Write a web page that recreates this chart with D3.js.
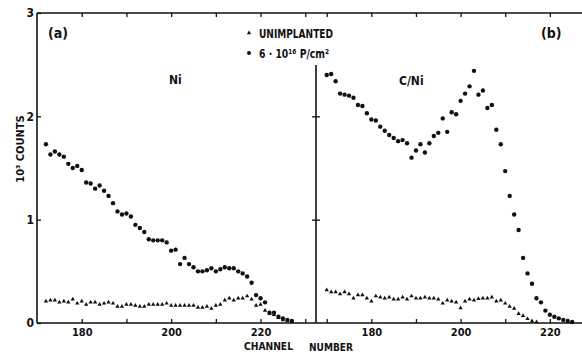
<!DOCTYPE html>
<html>
<head>
<meta charset="utf-8">
<script src="https://cdn.jsdelivr.net/npm/d3@7"></script>
<style>
  body { margin: 0; background: #fff; }
  svg { display: block; }
  text { font-family: "Liberation Sans Narrow", "DejaVu Sans Condensed", "Liberation Sans", sans-serif; font-weight: bold; fill: #111; }
</style>
</head>
<body>
<div id="chart"></div>
<script>
// Panel (a): Ni, counts in units of 10^3
const niChannels = d3.range(172, 228);
const niImplanted = [1.73, 1.63, 1.66, 1.63, 1.61, 1.54, 1.50, 1.52, 1.48,
  1.36, 1.35, 1.30, 1.33, 1.28, 1.23, 1.16, 1.08, 1.05, 1.06,
  1.03, 0.95, 0.92, 0.88, 0.81, 0.80, 0.80, 0.80, 0.78, 0.70,
  0.71, 0.57, 0.63, 0.57, 0.54, 0.50, 0.50, 0.51, 0.53, 0.50,
  0.52, 0.54, 0.53, 0.53, 0.50, 0.48, 0.45, 0.39, 0.27, 0.24,
  0.20, 0.10, 0.10, 0.06, 0.045, 0.03, 0.02];
const niUnimplChannels = d3.range(172, 227);
const niUnimplanted = [0.21, 0.22, 0.22, 0.20, 0.21, 0.20, 0.23, 0.19, 0.21,
  0.18, 0.20, 0.20, 0.18, 0.19, 0.20, 0.19, 0.16, 0.16, 0.18,
  0.18, 0.17, 0.16, 0.16, 0.18, 0.18, 0.18, 0.18, 0.19, 0.17,
  0.17, 0.17, 0.17, 0.17, 0.17, 0.15, 0.15, 0.16, 0.14, 0.17,
  0.18, 0.22, 0.24, 0.22, 0.24, 0.24, 0.26, 0.23, 0.17, 0.18,
  0.12, 0.09, 0.08, 0.05, 0.03, 0.02];

// Panel (b): C/Ni
const cniChannels = d3.range(170, 226);
const cniImplanted = [2.40, 2.41, 2.34, 2.22, 2.21, 2.20, 2.18, 2.11, 2.10, 2.03,
  1.97, 1.96, 1.90, 1.86, 1.82, 1.79, 1.76, 1.77, 1.74, 1.60,
  1.67, 1.73, 1.65, 1.74, 1.81, 1.84, 1.98, 1.85, 2.04, 2.02,
  2.15, 2.22, 2.29, 2.44, 2.21, 2.25, 2.08, 2.11, 1.87, 1.73,
  1.47, 1.23, 1.05, 0.90, 0.63, 0.48, 0.38, 0.24, 0.20, 0.12,
  0.08, 0.06, 0.045, 0.03, 0.02, 0.01];
const cniUnimplChannels = d3.range(170, 218);
const cniUnimplanted = [0.32, 0.30, 0.30, 0.28, 0.30, 0.28, 0.24, 0.27, 0.27, 0.24,
  0.21, 0.26, 0.25, 0.24, 0.25, 0.23, 0.23, 0.25, 0.23, 0.26,
  0.24, 0.24, 0.25, 0.24, 0.24, 0.23, 0.19, 0.22, 0.21, 0.20,
  0.145, 0.21, 0.23, 0.22, 0.235, 0.24, 0.24, 0.25, 0.21, 0.22,
  0.19, 0.16, 0.14, 0.09, 0.07, 0.04, 0.02, 0.01];

const yTicks = [0, 1, 2, 3];
const xLabelTicks = [180, 200, 220];
const leftTicks = [180, 190, 200, 210, 220, 230];
const rightTicks = [170, 180, 190, 200, 210, 220];

// Layout
const width = 582, height = 354;
const frame = {left: 37, mid: 316, right: 582, top: 13, bottom: 323};

const svg = d3.select('#chart')
  .append('svg')
  .attr('width', width)
  .attr('height', height);

// Scales
const xLeft = d3.scaleLinear().domain([170, 232.4]).range([frame.left, frame.mid]);
const xRight = d3.scaleLinear().domain([167.6, 227.2]).range([frame.mid, frame.right]);
const y = d3.scaleLinear().domain([0, 3]).range([frame.bottom, frame.top]);

const tri = d3.symbol(d3.symbolTriangle).size(8);

// Axes: bottom and top ticks point inward
const addXAxes = function(scale, ticks) {
  svg.append('g')
    .attr('transform', `translate(0,${frame.bottom})`)
    .call(d3.axisBottom(scale).tickValues(ticks).tickSizeInner(-4).tickSizeOuter(0).tickPadding(5)
      .tickFormat(d => xLabelTicks.includes(d) ? d : ''))
    .call(g => g.select('.domain').remove())
    .call(g => g.selectAll('text').attr('font-size', 11));

  svg.append('g')
    .attr('transform', `translate(0,${frame.top})`)
    .call(d3.axisTop(scale).tickValues(ticks).tickSizeInner(-4).tickSizeOuter(0).tickFormat(''))
    .call(g => g.select('.domain').remove());
}
addXAxes(xLeft, leftTicks);
addXAxes(xRight, rightTicks);

// Left y axis
svg.append('g')
  .attr('transform', `translate(${frame.left},0)`)
  .call(d3.axisLeft(y).tickValues(yTicks).tickFormat(d3.format('d'))
    .tickSizeInner(-4).tickSizeOuter(0).tickPadding(3))
  .call(g => g.select('.domain').remove())
  .call(g => g.selectAll('text').attr('font-size', 12));

// Middle axis, ticks crossing both ways
svg.append('g')
  .attr('transform', `translate(${frame.mid},0)`)
  .call(d3.axisLeft(y).tickValues([1, 2]).tickSize(4).tickFormat(''))
  .call(g => g.select('.domain').remove());
svg.append('g')
  .attr('transform', `translate(${frame.mid},0)`)
  .call(d3.axisRight(y).tickValues([1, 2]).tickSize(4).tickFormat(''))
  .call(g => g.select('.domain').remove());

svg.selectAll('.tick line').attr('stroke', '#111').attr('stroke-width', 1.3);

// Frame
const frameLines = [
  [frame.left, frame.top, frame.right, frame.top],
  [frame.left, frame.bottom, frame.right, frame.bottom],
  [frame.left, frame.top, frame.left, frame.bottom],
  [frame.mid, 65, frame.mid, frame.bottom]
];
svg.append('g').selectAll('line')
  .data(frameLines)
  .enter()
  .append('line')
  .attr('x1', d => d[0]).attr('y1', d => d[1])
  .attr('x2', d => d[2]).attr('y2', d => d[3])
  .attr('stroke', '#111')
  .attr('stroke-width', 1.6);

// Data points
const drawCircles = function(xs, vals, scale) {
  svg.append('g').selectAll('circle')
    .data(vals)
    .enter()
    .append('circle')
    .attr('cx', (d, i) => scale(xs[i]))
    .attr('cy', d => y(d))
    .attr('r', 2.2)
    .attr('fill', '#111');
}
const drawTriangles = function(xs, vals, scale) {
  svg.append('g').selectAll('path')
    .data(vals)
    .enter()
    .append('path')
    .attr('d', tri)
    .attr('transform', (d, i) => `translate(${scale(xs[i])},${y(d)})`)
    .attr('fill', '#111');
}
drawTriangles(niUnimplChannels, niUnimplanted, xLeft);
drawCircles(niChannels, niImplanted, xLeft);
drawTriangles(cniUnimplChannels, cniUnimplanted, xRight);
drawCircles(cniChannels, cniImplanted, xRight);

// Legend
svg.append('path').attr('d', tri).attr('transform', 'translate(249,33)').attr('fill', '#111');
svg.append('circle').attr('cx', 249).attr('cy', 53).attr('r', 2).attr('fill', '#111');
svg.append('text').attr('x', 259).attr('y', 38).attr('font-size', 12)
  .attr('textLength', 74).attr('lengthAdjust', 'spacingAndGlyphs').text('UNIMPLANTED');
svg.append('text').attr('x', 259).attr('y', 58).attr('font-size', 12)
  .attr('textLength', 70).attr('lengthAdjust', 'spacingAndGlyphs').text('6 · 10¹⁶ P/cm²');

// Panel labels
svg.append('text').attr('x', 48).attr('y', 38).attr('font-size', 14).text('(a)');
svg.append('text').attr('x', 541).attr('y', 38).attr('font-size', 14).text('(b)');
svg.append('text').attr('x', 169).attr('y', 84).attr('font-size', 12).text('Ni');
svg.append('text').attr('x', 399).attr('y', 85).attr('font-size', 12).text('C/Ni');

// Axis titles
svg.append('text')
  .attr('transform', 'translate(24,149) rotate(-90)')
  .attr('text-anchor', 'middle')
  .attr('font-size', 11)
  .text('10³  COUNTS');

svg.append('text').attr('x', 244).attr('y', 350).attr('font-size', 11)
  .attr('textLength', 49).attr('lengthAdjust', 'spacingAndGlyphs').text('CHANNEL');
svg.append('text').attr('x', 309).attr('y', 351).attr('font-size', 11)
  .attr('textLength', 44).attr('lengthAdjust', 'spacingAndGlyphs').text('NUMBER');
</script>
</body>
</html>
